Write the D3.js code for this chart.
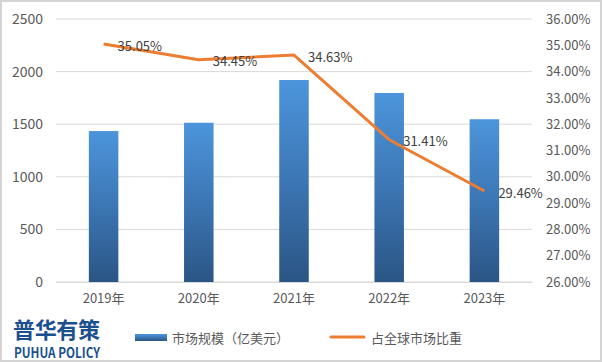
<!DOCTYPE html>
<html>
<head>
<meta charset="utf-8">
<script src="https://cdn.jsdelivr.net/npm/d3@7"></script>
<style>
  html, body { margin: 0; padding: 0; background: #fff; }
  svg text { font-family: "Microsoft YaHei", "Noto Sans CJK SC", "DejaVu Sans", sans-serif; }
</style>
</head>
<body>
<svg id="chart" width="602" height="362"></svg>
<script>
// chart data
const years = ["2019年", "2020年", "2021年", "2022年", "2023年"];
const marketSize = [1435, 1514, 1920, 1797, 1547];
const globalShare = [35.05, 34.45, 34.63, 31.41, 29.46];
const leftTicks = [0, 500, 1000, 1500, 2000, 2500];
const rightTicks = [26, 27, 28, 29, 30, 31, 32, 33, 34, 35, 36];
const legendLabels = ["市场规模（亿美元）", "占全球市场比重"];

const svg = d3.select("#chart"),
    width = +svg.attr("width"),
    height = +svg.attr("height");

const margin = { top: 19, right: 70, bottom: 80, left: 56 };
const plotW = width - margin.left - margin.right;   // 476
const plotH = height - margin.top - margin.bottom;  // 263

// outer frame
svg.append("rect")
    .attr("x", 1).attr("y", 1)
    .attr("width", width - 2).attr("height", height - 2)
    .attr("fill", "#fff")
    .attr("stroke", "#d4d4d4")
    .attr("stroke-width", 2);

const defs = svg.append("defs");
const grad = defs.append("linearGradient")
    .attr("id", "barGrad")
    .attr("x1", 0).attr("y1", 0).attr("x2", 0).attr("y2", 1);
grad.append("stop").attr("offset", "0%").attr("stop-color", "#4c95dc");
grad.append("stop").attr("offset", "50%").attr("stop-color", "#3c76b4");
grad.append("stop").attr("offset", "100%").attr("stop-color", "#2a5584");

const g = svg.append("g").attr("transform", `translate(${margin.left},${margin.top})`);

const x = d3.scaleBand().domain(years).range([0, plotW]).paddingInner(0.69).paddingOuter(0.345);
const yL = d3.scaleLinear().domain([0, 2500]).range([plotH, 0]);
const yR = d3.scaleLinear().domain([26, 36]).range([plotH, 0]);

// gridlines
g.append("g")
    .selectAll("line")
    .data(leftTicks)
    .join("line")
    .attr("x1", 0).attr("x2", plotW)
    .attr("y1", d => yL(d)).attr("y2", d => yL(d))
    .attr("stroke", "#d9d9d9")
    .attr("stroke-width", 1);

// left axis
const leftAxis = g.append("g")
    .call(d3.axisLeft(yL).tickValues(leftTicks).tickSize(0).tickPadding(13)
        .tickFormat(d3.format("d")));
leftAxis.select(".domain").remove();
leftAxis.selectAll("text").attr("font-size", 14).attr("fill", "#595959");

// right axis
const rightAxis = g.append("g")
    .attr("transform", `translate(${plotW},0)`)
    .call(d3.axisRight(yR).tickValues(rightTicks).tickSize(0).tickPadding(14)
        .tickFormat(d => d.toFixed(2) + "%"));
rightAxis.select(".domain").remove();
rightAxis.selectAll("text").attr("font-size", 13).attr("fill", "#595959");

// bottom axis
const bottomAxis = g.append("g")
    .attr("transform", `translate(0,${plotH})`)
    .call(d3.axisBottom(x).tickSize(0).tickPadding(12));
bottomAxis.select(".domain").attr("stroke", "#d9d9d9");
bottomAxis.selectAll("text").attr("font-size", 13).attr("fill", "#595959");

// bars
g.append("g")
    .selectAll("rect")
    .data(marketSize)
    .join("rect")
    .attr("x", (d, i) => x(years[i]))
    .attr("y", d => yL(d))
    .attr("width", x.bandwidth())
    .attr("height", d => plotH - yL(d))
    .attr("fill", "url(#barGrad)");

// share line
const line = d3.line()
    .x((d, i) => x(years[i]) + x.bandwidth() / 2)
    .y(d => yR(d));

g.append("path")
    .datum(globalShare)
    .attr("d", line)
    .attr("fill", "none")
    .attr("stroke", "#ed7d31")
    .attr("stroke-width", 3)
    .attr("stroke-linejoin", "round");

// data labels
g.append("g")
    .selectAll("text")
    .data(globalShare)
    .join("text")
    .attr("x", (d, i) => x(years[i]) + x.bandwidth() / 2 + 14)
    .attr("y", d => yR(d) + 2)
    .attr("dy", "0.35em")
    .attr("font-size", 13)
    .attr("fill", "#404040")
    .text(d => d.toFixed(2) + "%");

// legend
const legend = svg.append("g");
legend.append("rect")
    .attr("x", 135).attr("y", 334)
    .attr("width", 32).attr("height", 7)
    .attr("fill", "url(#barGrad)");
legend.append("text")
    .attr("x", 172).attr("y", 338).attr("dy", "0.35em")
    .attr("font-size", 13).attr("fill", "#595959")
    .text(legendLabels[0]);
legend.append("line")
    .attr("x1", 331).attr("x2", 364)
    .attr("y1", 337).attr("y2", 337)
    .attr("stroke", "#ed7d31")
    .attr("stroke-width", 3)
    .attr("stroke-linecap", "round");
legend.append("text")
    .attr("x", 371).attr("y", 338).attr("dy", "0.35em")
    .attr("font-size", 13).attr("fill", "#595959")
    .text(legendLabels[1]);

// logo
svg.append("text")
    .attr("x", 13).attr("y", 338)
    .attr("font-size", 22).attr("font-weight", "bold")
    .attr("fill", "#1c4f8e")
    .attr("textLength", 87)
    .text("普华有策");
svg.append("text")
    .attr("x", 14).attr("y", 358)
    .attr("font-size", 14).attr("font-weight", "bold")
    .attr("fill", "#1c4f8e")
    .attr("textLength", 86)
    .attr("lengthAdjust", "spacingAndGlyphs")
    .text("PUHUA POLICY");
</script>
</body>
</html>
